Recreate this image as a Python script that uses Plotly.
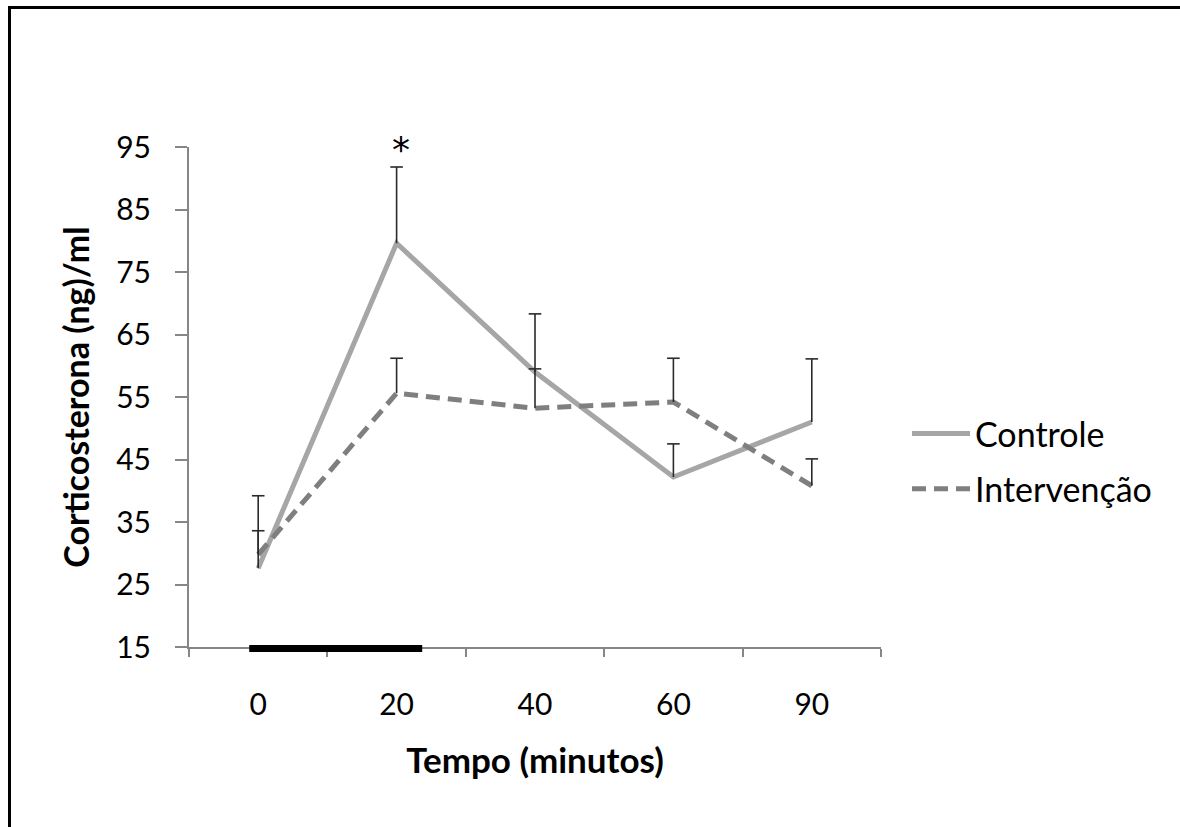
import plotly.graph_objects as go

categories = ["0", "20", "40", "60", "90"]
controle = [27.6, 79.6, 59.0, 42.2, 51.0]
controle_err = [11.6, 12.2, 9.3, 5.3, 10.1]
intervencao = [29.8, 55.6, 53.2, 54.2, 40.8]
intervencao_err = [3.8, 5.6, 6.3, 7.0, 4.3]
y_ticks = [15, 25, 35, 45, 55, 65, 75, 85, 95]
stimulus_span = [-0.065, 1.185]  # category-index extent of black bar
significant = "20"

FONT = "Lato"
AXIS_GRAY = "#868686"
ERR = "#2a2a2a"

def stems(vals, errs):
    xs, ys = [], []
    for c, v, e in zip(categories, vals, errs):
        xs += [c, c, None]
        ys += [v, v + e, None]
    return xs, ys

fig = go.Figure()

fig.add_trace(go.Scatter(
    x=categories, y=controle, mode="lines", name="Controle",
    line=dict(color="#a6a6a6", width=5), legendgroup="a"))
fig.add_trace(go.Scatter(
    x=categories, y=intervencao, mode="lines", name="Intervenção",
    line=dict(color="#7f7f7f", width=5, dash="14px,8px"), legendgroup="b"))

for vals, errs in [(controle, controle_err), (intervencao, intervencao_err)]:
    sx, sy = stems(vals, errs)
    fig.add_trace(go.Scatter(x=sx, y=sy, mode="lines", showlegend=False,
                             line=dict(color=ERR, width=1.6), hoverinfo="skip"))
    fig.add_trace(go.Scatter(x=categories, y=[v + e for v, e in zip(vals, errs)],
                             mode="markers", showlegend=False, hoverinfo="skip",
                             marker=dict(symbol="line-ew", size=9,
                                         line=dict(color=ERR, width=1.6))))

L, R, T, B = 189, 299, 147, 180
W, H = 1180, 827
pw, ph = W - L - R, H - T - B

def px_x(p):
    return (p - L) / pw

def px_y(p):
    return (H - B - p) / ph

# Stimulus bar along the x-axis
n = len(categories)
fig.add_shape(type="line", xref="paper", yref="paper",
              x0=(stimulus_span[0] + 0.5) / n, x1=(stimulus_span[1] + 0.5) / n,
              y0=px_y(648.5), y1=px_y(648.5),
              line=dict(color="black", width=7))

# Page border (top and left)
fig.add_shape(type="line", xref="paper", yref="paper",
              x0=px_x(9.5), x1=px_x(1200), y0=px_y(7.5), y1=px_y(7.5),
              line=dict(color="black", width=3))
fig.add_shape(type="line", xref="paper", yref="paper",
              x0=px_x(9.5), x1=px_x(9.5), y0=px_y(6), y1=px_y(840),
              line=dict(color="black", width=3))

si = categories.index(significant)
fig.add_annotation(x=si, y=controle[si] + controle_err[si], text="*",
                   xref="x", yref="y", xshift=4,
                   showarrow=False, yanchor="bottom", yshift=-5,
                   font=dict(family="DejaVu Sans", size=36, color="black"))

fig.update_layout(
    width=W, height=H,
    margin=dict(l=L, r=R, t=T, b=B),
    paper_bgcolor="white", plot_bgcolor="white",
    font=dict(family=FONT, size=30, color="black"),
    showlegend=True,
    legend=dict(x=px_x(907), y=px_y(405), xanchor="left", yanchor="top",
                font=dict(family=FONT, size=34), itemwidth=58,
                tracegroupgap=8, traceorder="grouped",
                bgcolor="rgba(0,0,0,0)"),
    xaxis=dict(type="category", categoryarray=categories, range=[-0.5, 4.5],
               tickson="boundaries", ticks="outside", ticklen=8, tickwidth=2,
               tickcolor=AXIS_GRAY, showline=True, linecolor=AXIS_GRAY, linewidth=2,
               showgrid=False, zeroline=False, ticklabelstandoff=30,
               tickfont=dict(family=FONT, size=30),
               title=dict(text="<b>Tempo (minutos)</b>", standoff=28,
                          font=dict(family=FONT, size=35))),
    yaxis=dict(range=[15, 95], tickvals=y_ticks, ticks="outside", ticklen=12,
               tickwidth=2, tickcolor=AXIS_GRAY, showline=True, linecolor=AXIS_GRAY,
               linewidth=2, showgrid=False, zeroline=False, ticklabelstandoff=18,
               tickfont=dict(family=FONT, size=30),
               title=dict(text="<b>Corticosterona (ng)/ml</b>", standoff=16,
                          font=dict(family=FONT, size=34))),
)

fig.write_html("out.html")
